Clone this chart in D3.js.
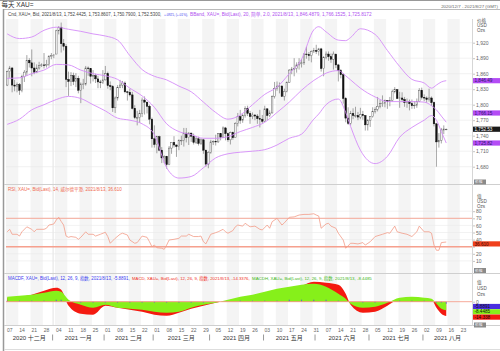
<!DOCTYPE html>
<html lang="zh">
<head>
<meta charset="UTF-8">
<script src="https://d3js.org/d3.v7.min.js"></script>
<style>
  body { margin: 0; background: #fff; }
  svg text { font-family: "Liberation Sans", "Noto Sans CJK SC", sans-serif; }
</style>
</head>
<body>
<svg id="chart" width="500" height="351"></svg>
<script>
// ---- data, one value per trading day from 2020/12/7 ----
const open = [1838,1864,1871,1838,1836, 1839,1828,1855,1863,1886, 1881,1871,1863,1871,1876, 1877,1876,1878,1893,1895,
  1898,1943,1950,1918,1913, 1849,1845,1856,1845,1851, 1828,1840,1840,1871,1870, 1855,1856,1850,1844,1843,
  1848,1860,1837,1835,1794, 1813,1833,1838,1842,1825, 1824,1819,1793,1775,1775, 1783,1809,1805,1797,1772,
  1734,1723,1738,1712,1697, 1700,1684,1716,1727,1722, 1719,1731,1731,1745,1736, 1745,1739,1727,1734,1725,
  1732,1712,1685,1708,1728, 1729,1728,1744,1737,1755, 1744,1732,1746,1736,1764, 1777,1770,1779,1793,1783,
  1777,1780,1778,1773,1772, 1768,1792,1779,1784,1816, 1831,1836,1836,1816,1826, 1843,1867,1869,1870,1877,
  1881,1881,1898,1897,1895, 1903,1905,1903,1908,1870, 1891,1898,1893,1888,1898, 1877,1866,1858,1812,1774,
  1764,1783,1779,1779,1776, 1781,1779,1761,1770,1777, 1787,1791,1797,1802,1803, 1808,1806,1808,1825,1829,
  1812,1813,1810,1804,1806, 1802,1798,1799,1806,1828, 1814,1813,1810,1813,1804, 1763,1728,1731,1751,1752.44];
const high = [1866,1875,1873,1848,1843, 1842,1858,1867,1896,1890, 1907,1882,1878,1883,1880, 1900,1887,1896,1900,1898,
  1945,1952,1959,1927,1917, 1864,1863,1862,1861,1856, 1843,1850,1875,1874,1870, 1867,1860,1856,1848,1867,
  1875,1864,1845,1838,1816, 1838,1848,1846,1845,1827, 1831,1825,1799,1788,1790, 1814,1816,1805,1800,1775,
  1760,1740,1740,1718,1702, 1701,1720,1727,1739,1723, 1733,1740,1755,1755,1747, 1746,1744,1739,1738,1735,
  1734,1713,1710,1732,1731, 1742,1745,1745,1758,1757, 1746,1748,1748,1766,1784, 1790,1782,1797,1798,1788,
  1785,1782,1782,1790,1780, 1798,1793,1789,1818,1844, 1845,1843,1838,1831,1845, 1869,1873,1890,1882,1890,
  1888,1900,1912,1902,1905, 1910,1916,1910,1910,1894, 1903,1903,1899,1903,1896, 1879,1869,1861,1815,1795,
  1788,1793,1796,1786,1794, 1788,1780,1772,1777,1795, 1795,1815,1809,1818,1810, 1809,1815,1829,1834,1830,
  1825,1824,1815,1812,1810, 1810,1807,1812,1832,1833, 1820,1816,1831,1816,1806, 1765,1745,1755,1760,1753.86];
const low = [1836,1852,1824,1826,1824, 1819,1824,1844,1856,1872, 1855,1859,1861,1868,1873, 1870,1872,1874,1888,1890,
  1900,1936,1901,1905,1834, 1817,1836,1838,1834,1822, 1803,1830,1837,1856,1841, 1845,1842,1832,1832,1840,
  1847,1831,1828,1786,1784, 1808,1832,1832,1822,1808, 1816,1791,1772,1760,1765, 1776,1781,1783,1762,1717,
  1717,1706,1710,1687,1687, 1676,1683,1705,1717,1699, 1712,1722,1719,1727,1722, 1728,1723,1724,1721,1722,
  1705,1680,1677,1705,1722, 1721,1726,1731,1736,1731, 1728,1723,1732,1736,1758, 1763,1765,1775,1778,1763,
  1772,1770,1763,1756,1764, 1767,1770,1776,1783,1812, 1827,1822,1815,1808,1824, 1842,1859,1855,1862,1868,
  1872,1877,1889,1885,1882, 1900,1898,1895,1864,1855, 1888,1885,1881,1868,1871, 1845,1851,1802,1766,1761,
  1760,1772,1775,1770,1772, 1771,1750,1750,1757,1775, 1783,1787,1793,1796,1795, 1792,1797,1806,1822,1811,
  1794,1805,1796,1794,1789, 1792,1792,1794,1805,1810, 1807,1804,1806,1798,1758, 1680,1717,1725,1743,1750.79];
const close = [1864,1871,1838,1836,1839, 1828,1855,1863,1886,1881, 1871,1863,1871,1876,1877, 1876,1878,1893,1895,1896,
  1943,1950,1918,1913,1849, 1845,1856,1845,1851,1828, 1840,1840,1871,1870,1855, 1856,1850,1844,1843,1848,
  1860,1837,1835,1794,1813, 1833,1838,1842,1825,1824, 1819,1793,1775,1775,1783, 1809,1805,1797,1772,1734,
  1723,1738,1712,1697,1700, 1684,1716,1727,1722,1719, 1731,1731,1745,1736,1745, 1739,1727,1734,1725,1732,
  1712,1685,1708,1728,1729, 1728,1744,1737,1755,1744, 1732,1746,1736,1764,1777, 1770,1779,1793,1783,1777,
  1780,1778,1773,1772,1768, 1792,1779,1784,1816,1831, 1836,1836,1816,1826,1843, 1867,1869,1870,1877,1881,
  1881,1898,1897,1895,1903, 1905,1903,1908,1870,1891, 1898,1893,1888,1898,1877, 1866,1858,1812,1774,1764,
  1783,1779,1779,1776,1781, 1779,1761,1770,1777,1787, 1791,1797,1802,1803,1808, 1806,1808,1825,1829,1812,
  1813,1810,1804,1806,1802, 1798,1799,1806,1828,1814, 1813,1810,1813,1804,1763, 1728,1731,1751,1753,1752.53];

// Bollinger bands (20, 2.0), sampled at these trading-day indices
const bbIdx   = [0,5,10,15,20,25,30,35,40,45,50,55,60,65,70,75,80,85,90,95,100,105,110,115,120,125,127,130,135,138,140,144,150,155,160,165,170,173,175,177,179];
const bbUpper = [1937,1928,1931,1944,1950,1946,1942,1937,1933,1925,1895,1868,1855,1848,1836,1825,1805,1785,1772,1780,1800,1820,1834,1860,1888,1945,1951,1941,1925,1924,1930,1947,1936,1905,1874,1849,1842,1832,1838,1844,1846.49];
const bbMid   = [1851,1852,1860,1867,1878,1877,1867,1860,1856,1849,1832,1817,1795,1763,1748,1742,1735,1735,1738,1748,1756,1766,1785,1805,1828,1847,1853,1861,1866,1856,1848,1832,1815,1806,1806,1806,1805,1798,1790,1778,1766.15];
const bbLower = [1762,1772,1790,1800,1810,1816,1812,1800,1788,1774,1770,1763,1742,1678,1658,1661,1678,1697,1705,1708,1710,1713,1722,1735,1743,1772,1782,1800,1811,1785,1758,1712,1686,1700,1737,1756,1770,1779,1770,1748,1725.82];

// RSI (14), [trading-day index, value]
const rsiPts = [[0,51],[1,54.5],[2,47.5],[4,47.5],[5,45],[6,51],[8,58],[10,54.5],[11,51],[12,54.5],[15,54.5],[16,56],[17,60.5],
  [19,62],[20,67.6],[21,71.4],[22,65.6],[23,60.5],[24,45],[25,43.2],[26,44.3],[28,43.2],[29,40.4],[30,43.2],[32,51],
  [33,47.5],[35,47.5],[36,45],[38,47.5],[40,50.3],[41,44.3],[42,34.8],[44,41.8],[46,47.5],[47,49],[49,46.5],[50,39.4],
  [52,34.8],[53,35.8],[55,45],[57,43.2],[58,37],[59,30],[60,32.3],[61,28.6],[63,27.8],[64,26.3],[65,32.3],[66,39.4],
  [68,40.4],[70,41.8],[71,45],[73,45],[74,47.5],[76,44.3],[78,44.3],[79,45],[80,37],[81,34],[83,47.5],[85,49.8],
  [86,51],[88,54.5],[89,51],[90,49],[92,52.7],[93,58],[94,60.5],[96,59],[97,63],[98,60.5],[99,58],[101,59],[103,54.5],
  [104,53.6],[106,60.5],[107,56],[108,65.2],[110,70],[112,60.5],[113,63.6],[115,71.4],[117,72],[119,74.6],[121,75.5],
  [123,75.5],[125,76.4],[126,74.6],[127,73.2],[128,56],[130,62],[131,63],[132,59],[134,56],[135,49],[137,39.4],
  [138,27.8],[140,34.8],[141,34.8],[143,33.9],[145,35.8],[146,32.3],[148,37],[150,44.3],[153,47.5],[155,49.8],
  [156,49],[158,59],[159,51],[161,49],[163,47.5],[165,44.3],[167,51],[168,59],[170,51],[172,51],[173,49],[174,32.3],
  [175,25],[176,25],[177,35.8],[179,36.61]];

// MACD (12, 26, 9), sampled at these trading-day indices
const macdIdx   = [0,5,10,15,20,22,25,30,35,40,45,50,55,60,65,70,75,80,85,90,95,100,105,110,115,120,125,130,135,138,140,145,150,155,160,165,170,173,175,177,179];
const macdLine  = [4,5,7,11,14,12,-4,-12,-13,-4,-6,-8,-10,-13,-14,-11,-7,-4,-1,1,2,4,7,10,13,16,20,19,17,8,-3,-11,-10,-4,3,4,3,2,-6,-12,-14.34];
const macdHist  = [5,6,7,9,11,10,2,-3,-6,-3,-6,-7,-8,-10,-11,-10,-6,-3,-1,2,5,7,10,13,15,17,18,15,8,3,-2,-6,-5,-1,4,5,4,3,-2,-7,-8.45];
const macdF     = [1,1,1,1,2,2,0,-1,-1,-1,-1,-1,-1,-1,-1,-1,-1,-1,0,0,1,1,1,1,2,2,2,2,1,0,0,-1,-1,0,1,1,1,0,-1,-1,-2];

// axis ticks and labels
const priceTicks = [1680,1710,1740,1770,1800,1830,1860,1890,1920];
const rsiTicks = [10,20,30,40,50,60,70,80];
const rsiLevels = [70, 30];
const monthNames = ["2020 十二月","2021 一月","2021 二月","2021 三月","2021 四月","2021 五月","2021 六月","2021 七月","2021 八月"];

// ---- layout ----
const svg = d3.select("#chart");
const L = 6, R = 472;
const pTop = 19, pBot = 184.5, rBot = 273.5, mBot = 325.5;
const axX = 473;

const days = d3.timeDays(new Date(2020, 11, 7), new Date(2021, 7, 28))
  .filter(d => d.getDay() !== 0 && d.getDay() !== 6);
const x = d3.scaleBand().domain(d3.range(days.length)).range([L, R]);
const bw = x.bandwidth();
const cx = i => x(i) + bw / 2;

const yP = d3.scaleLinear().domain([1680, 1920]).range([166.7, 42.7]);
const yR = d3.scaleLinear().domain([30, 70]).range([246.7, 218.3]);
const yM = d3.scaleLinear().domain([-10, 10]).range([311.7, 291.7]);

// week stripes
const weeks = d3.range(0, days.length, 5);
svg.append("g").selectAll("rect").data(weeks.filter((w, k) => k % 2 === 0))
  .join("rect")
  .attr("x", d => x(d)).attr("width", 5 * bw)
  .attr("y", pTop).attr("height", mBot - pTop)
  .attr("fill", "#f4f4f4");

// year separator
const yearIdx = days.findIndex(d => d.getFullYear() === 2021);
svg.append("line").attr("x1", x(yearIdx) + 0.5).attr("x2", x(yearIdx) + 0.5)
  .attr("y1", pTop).attr("y2", mBot).attr("stroke", "#e2e2e2").attr("stroke-width", 1);

// grid lines
const grid = svg.append("g").attr("stroke", "#e9e9e9").attr("stroke-width", 0.6);
priceTicks.forEach(t => grid.append("line").attr("x1", L).attr("x2", R).attr("y1", yP(t)).attr("y2", yP(t)));
rsiTicks.forEach(t => grid.append("line").attr("x1", L).attr("x2", R).attr("y1", yR(t)).attr("y2", yR(t)));

// frame
svg.append("line").attr("x1", 0).attr("x2", 500).attr("y1", 0.5).attr("y2", 0.5).attr("stroke", "#999");
svg.append("line").attr("x1", 4).attr("x2", 500).attr("y1", 9.5).attr("y2", 9.5).attr("stroke", "#bbb");
svg.append("line").attr("x1", 3.5).attr("x2", 3.5).attr("y1", 9).attr("y2", 351).attr("stroke", "#999").attr("stroke-width", 1.5);
[pBot, rBot, mBot].forEach(y => svg.append("line").attr("x1", 4).attr("x2", 500)
  .attr("y1", y).attr("y2", y).attr("stroke", "#cfcfcf"));
svg.append("line").attr("x1", R + 0.5).attr("x2", R + 0.5).attr("y1", pTop).attr("y2", mBot).attr("stroke", "#d6d6d6");
svg.append("line").attr("x1", 4).attr("x2", 500).attr("y1", 349.5).attr("y2", 349.5).attr("stroke", "#ddd");

// ---- price panel ----
const candles = close.map((c, i) => ({ i, o: open[i], h: high[i], l: low[i], c }));
const cg = svg.append("g");
cg.selectAll("line").data(candles).join("line")
  .attr("x1", d => cx(d.i)).attr("x2", d => cx(d.i))
  .attr("y1", d => yP(d.h)).attr("y2", d => yP(d.l))
  .attr("stroke", "#6a6a6a").attr("stroke-width", 0.6);
cg.selectAll("rect").data(candles).join("rect")
  .attr("x", d => cx(d.i) - 0.8).attr("width", 1.6)
  .attr("y", d => yP(Math.max(d.o, d.c)))
  .attr("height", d => Math.max(0.6, Math.abs(yP(d.o) - yP(d.c))))
  .attr("fill", d => d.c >= d.o ? "#fff" : "#111")
  .attr("stroke", d => d.c >= d.o ? "#5a5a5a" : "#111")
  .attr("stroke-width", 0.45);

const bbLine = vals => d3.line().x((d, k) => cx(bbIdx[k])).y(d => yP(d)).curve(d3.curveMonotoneX)(vals);
[bbUpper, bbMid, bbLower].forEach(vals => svg.append("path").attr("d", bbLine(vals))
  .attr("fill", "none").attr("stroke", "#d58cf8").attr("stroke-width", 0.9));

// ---- RSI panel ----
rsiLevels.forEach((v, k) => svg.append("line").attr("x1", L).attr("x2", R)
  .attr("y1", yR(v)).attr("y2", yR(v)).attr("stroke", "#f6a08e").attr("stroke-width", k ? 1.4 : 0.9));
svg.append("path")
  .attr("d", d3.line().x(d => cx(d[0])).y(d => yR(d[1]))(rsiPts))
  .attr("fill", "none").attr("stroke", "#f39c88").attr("stroke-width", 0.8);

// ---- MACD panel ----
const macdArea = vals => d3.area().x((d, k) => cx(macdIdx[k])).y0(yM(0)).y1(d => yM(d)).curve(d3.curveMonotoneX)(vals);
svg.append("path").attr("d", macdArea(macdLine)).attr("fill", "#f41a10");
svg.append("path").attr("d", macdArea(macdHist)).attr("fill", "#86f01a");
svg.append("g").selectAll("line").data(macdF).join("line")
  .attr("x1", (d, k) => cx(macdIdx[k])).attr("x2", (d, k) => cx(macdIdx[k]))
  .attr("y1", yM(0)).attr("y2", d => yM(d))
  .attr("stroke", "#4a4ae8").attr("stroke-width", 0.8);
svg.append("line").attr("x1", L).attr("x2", R).attr("y1", yM(0)).attr("y2", yM(0))
  .attr("stroke", "#f6a08e").attr("stroke-width", 0.9);

// ---- right axes ----
function rightAxis(scale, ticks, fmt) {
  const g = svg.append("g").attr("transform", `translate(${axX},0)`)
    .call(d3.axisRight(scale).tickValues(ticks).tickSize(2).tickPadding(1).tickFormat(fmt));
  g.select(".domain").remove();
  g.selectAll("line").attr("stroke", "#888").attr("stroke-width", 0.5);
  g.selectAll("text").attr("font-size", 5).attr("fill", "#666");
}
rightAxis(yP, priceTicks, d3.format(","));
rightAxis(yR, rsiTicks, d => d === 30 ? "" : d3.format("d")(d));  // 30 sits under the RSI value box
rightAxis(yM, [0], d3.format("d"));

function header(lines, ys) {
  lines.forEach((t, k) => svg.append("text").attr("x", 477).attr("y", ys[k])
    .attr("dy", "0.35em").attr("font-size", 4.6).attr("fill", "#555").text(t));
}
header(["价格", "USD", "Ozs"], [20, 25.3, 30.3]);
header(["值", "USD", "Ozs"], [196, 201.7, 206.7]);
header(["值", "USD", "Ozs"], [282, 288.5, 294.5]);

function box(y, fill, txt, color) {
  svg.append("rect").attr("x", axX).attr("y", y - 2.6).attr("width", 27).attr("height", 5.2).attr("fill", fill);
  svg.append("text").attr("x", axX + 1.5).attr("y", y).attr("dy", "0.35em")
    .attr("font-size", 4.6).attr("fill", color).text(txt);
}
box(yP(bbUpper[bbUpper.length - 1]), "#b44cf5", "1,846.49", "#2a1a6a");
box(113, "#b44cf5", "1,766.15", "#2a1a6a");
box(yP(close[close.length - 1]), "#1a1a1a", "1,752.53", "#fff");
box(yP(bbLower[bbLower.length - 1]), "#b44cf5", "1,725.82", "#2a1a6a");
box(243.9, "#f0401c", "36.610", "#3a1010");
box(306.5, "#4a2ee0", "-5.8891", "#111");
box(311.8, "#86f01a", "-8.4485", "#111");
box(317.1, "#f41a10", "-14.338", "#111");
[182, 270.5, 325].forEach(y => {
  svg.append("rect").attr("x", 474).attr("y", y - 2.5).attr("width", 12).attr("height", 5).attr("fill", "#8a8a8a");
  svg.append("text").attr("x", 475).attr("y", y).attr("dy", "0.35em").attr("font-size", 3.8).attr("fill", "#fff").text("价格");
});

// ---- bottom axis ----
const fmtDay = d3.timeFormat("%d");
svg.append("g").selectAll("text").data(weeks).join("text")
  .attr("x", d => x(d) + 1).attr("y", 330.5).attr("dy", "0.35em")
  .attr("font-size", 5).attr("fill", "#666")
  .text(d => fmtDay(days[d]));

const monthStarts = [0];
days.forEach((d, i) => { if (i > 0 && d.getMonth() !== days[i - 1].getMonth()) monthStarts.push(i); });
const monthEdges = monthStarts.map(i => x(i)).concat([R]);
svg.append("g").selectAll("text").data(monthNames).join("text")
  .attr("x", (d, k) => (monthEdges[k] + monthEdges[k + 1]) / 2).attr("y", 337.5).attr("dy", "0.35em")
  .attr("text-anchor", "middle").attr("font-size", 6).attr("fill", "#333").text(d => d);
svg.append("g").selectAll("line").data(monthStarts.slice(1)).join("line")
  .attr("x1", d => x(d)).attr("x2", d => x(d)).attr("y1", 334.5).attr("y2", 340.5)
  .attr("stroke", "#555").attr("stroke-width", 0.6);

// ---- titles / legends ----
svg.append("text").attr("x", 1.5).attr("y", 4.5).attr("dy", "0.35em")
  .attr("font-size", 6.5).attr("fill", "#333").text("每天 XAU=");
svg.append("text").attr("x", 498).attr("y", 6).attr("dy", "0.35em").attr("text-anchor", "end")
  .attr("font-size", 4.4).attr("fill", "#666").text("2020/12/7 - 2021/8/27 (GMT)");

function legend(y, parts) {
  parts.forEach(p => {
    const t = svg.append("text").attr("x", p.x0).attr("y", y).attr("dy", "0.35em")
      .attr("font-size", 10).attr("fill", p.color).text(p.text);
    const w = t.node().getComputedTextLength();
    t.attr("font-size", 10 * (p.x1 - p.x0) / w);
  });
}
legend(14.5, [
  { text: "Cnd, XAU=, Bid, 2021/8/13, 1,752.4425, 1,753.8607, 1,750.7900, 1,752.5300,", color: "#444", x0: 8, x1: 162 },
  { text: "+.0925, (+.01%),", color: "#3c3cf0", x0: 164, x1: 188 },
  { text: "BBand, XAU=, Bid(Last), 20, 简单, 2.0, 2021/8/13, 1,846.4879, 1,766.1525, 1,725.8172", color: "#b050f0", x0: 190, x1: 372 }
]);
legend(189.5, [
  { text: "RSI, XAU=, Bid(Last), 14, 威尔德平滑, 2021/8/13, 36.610", color: "#f06a50", x0: 8, x1: 122 }
]);
legend(278, [
  { text: "MACDF, XAU=, Bid(Last), 12, 26, 9, 指数, 2021/8/13, -5.8891,", color: "#3c3cf0", x0: 8, x1: 130 },
  { text: "MACD, XAU=, Bid(Last), 12, 26, 9, 指数, 2021/8/13, -14.3376,", color: "#f0301c", x0: 132, x1: 250 },
  { text: "MACDH, XAU=, Bid(Last), 12, 26, 9, 指数, 2021/8/13, -8.4485", color: "#3cb81a", x0: 252, x1: 372 }
]);
</script>
</body>
</html>
